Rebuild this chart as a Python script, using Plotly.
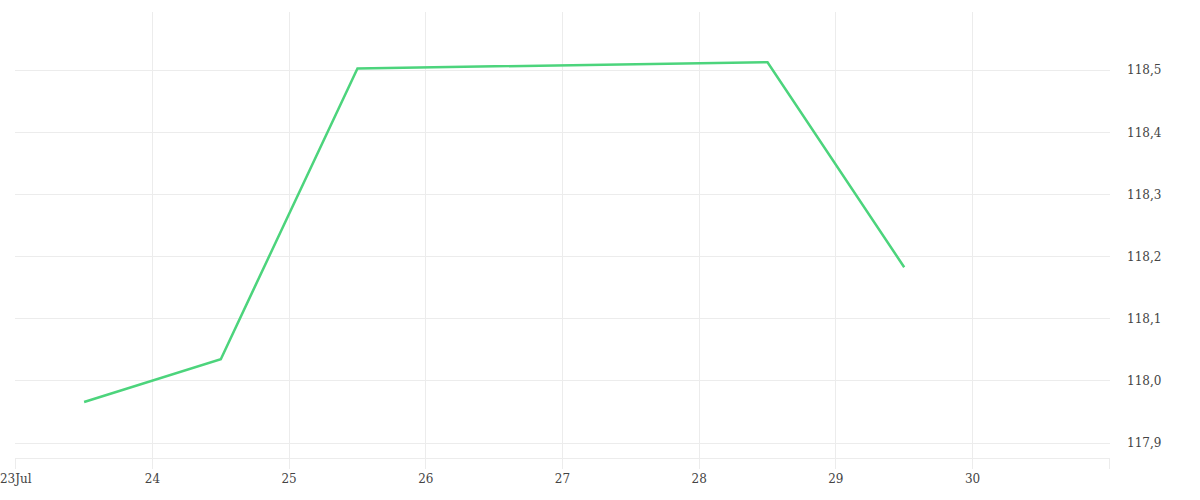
import plotly.graph_objects as go

# daily readings, taken at midday
dates = ["2024-07-23 12:00", "2024-07-24 12:00", "2024-07-25 12:00", "2024-07-26 12:00",
         "2024-07-27 12:00", "2024-07-28 12:00", "2024-07-29 12:00"]
values = [117.966, 118.035, 118.503, 118.506, 118.509, 118.513, 118.183]

tick_dates = ["2024-07-23", "2024-07-24", "2024-07-25", "2024-07-26", "2024-07-27",
              "2024-07-28", "2024-07-29", "2024-07-30", "2024-07-31"]
tick_labels = ["23Jul", "24", "25", "26", "27", "28", "29", "30", ""]
y_ticks = [117.9, 118.0, 118.1, 118.2, 118.3, 118.4, 118.5]
y_labels = ["117,9", "118,0", "118,1", "118,2", "118,3", "118,4", "118,5"]

fig = go.Figure()
fig.add_trace(go.Scatter(
    x=dates, y=values, mode="lines",
    line=dict(color="#4cd47c", width=2.5),
    showlegend=False,
))

grid = "#ececec"
fig.update_layout(
    width=1200, height=500,
    margin=dict(l=15, r=90, t=12, b=42),
    plot_bgcolor="white", paper_bgcolor="white",
    font=dict(family="DejaVu Serif", size=12, color="#444"),
    xaxis=dict(
        # a few minutes of slack so the edge gridlines are still drawn
        range=["2024-07-22 23:52", "2024-07-31 00:08"],
        tickvals=tick_dates, ticktext=tick_labels,
        showgrid=True, gridcolor=grid, gridwidth=1,
        ticks="outside", ticklen=10, tickcolor=grid,
        showline=True, linecolor=grid, linewidth=1,
        zeroline=False, automargin=False, ticklabeloverflow="allow",
    ),
    yaxis=dict(
        side="right",
        range=[117.8759, 118.5938],
        tickvals=y_ticks, ticktext=y_labels,
        showgrid=True, gridcolor=grid, gridwidth=1,
        ticks="", ticklabelstandoff=16,
        zeroline=False, showline=False, automargin=False,
    ),
)

# drop the default body margin so the chart sits flush with the window
fig.write_html("out.html", config={"displayModeBar": False},
               post_script="document.body.style.margin = '0px';")
